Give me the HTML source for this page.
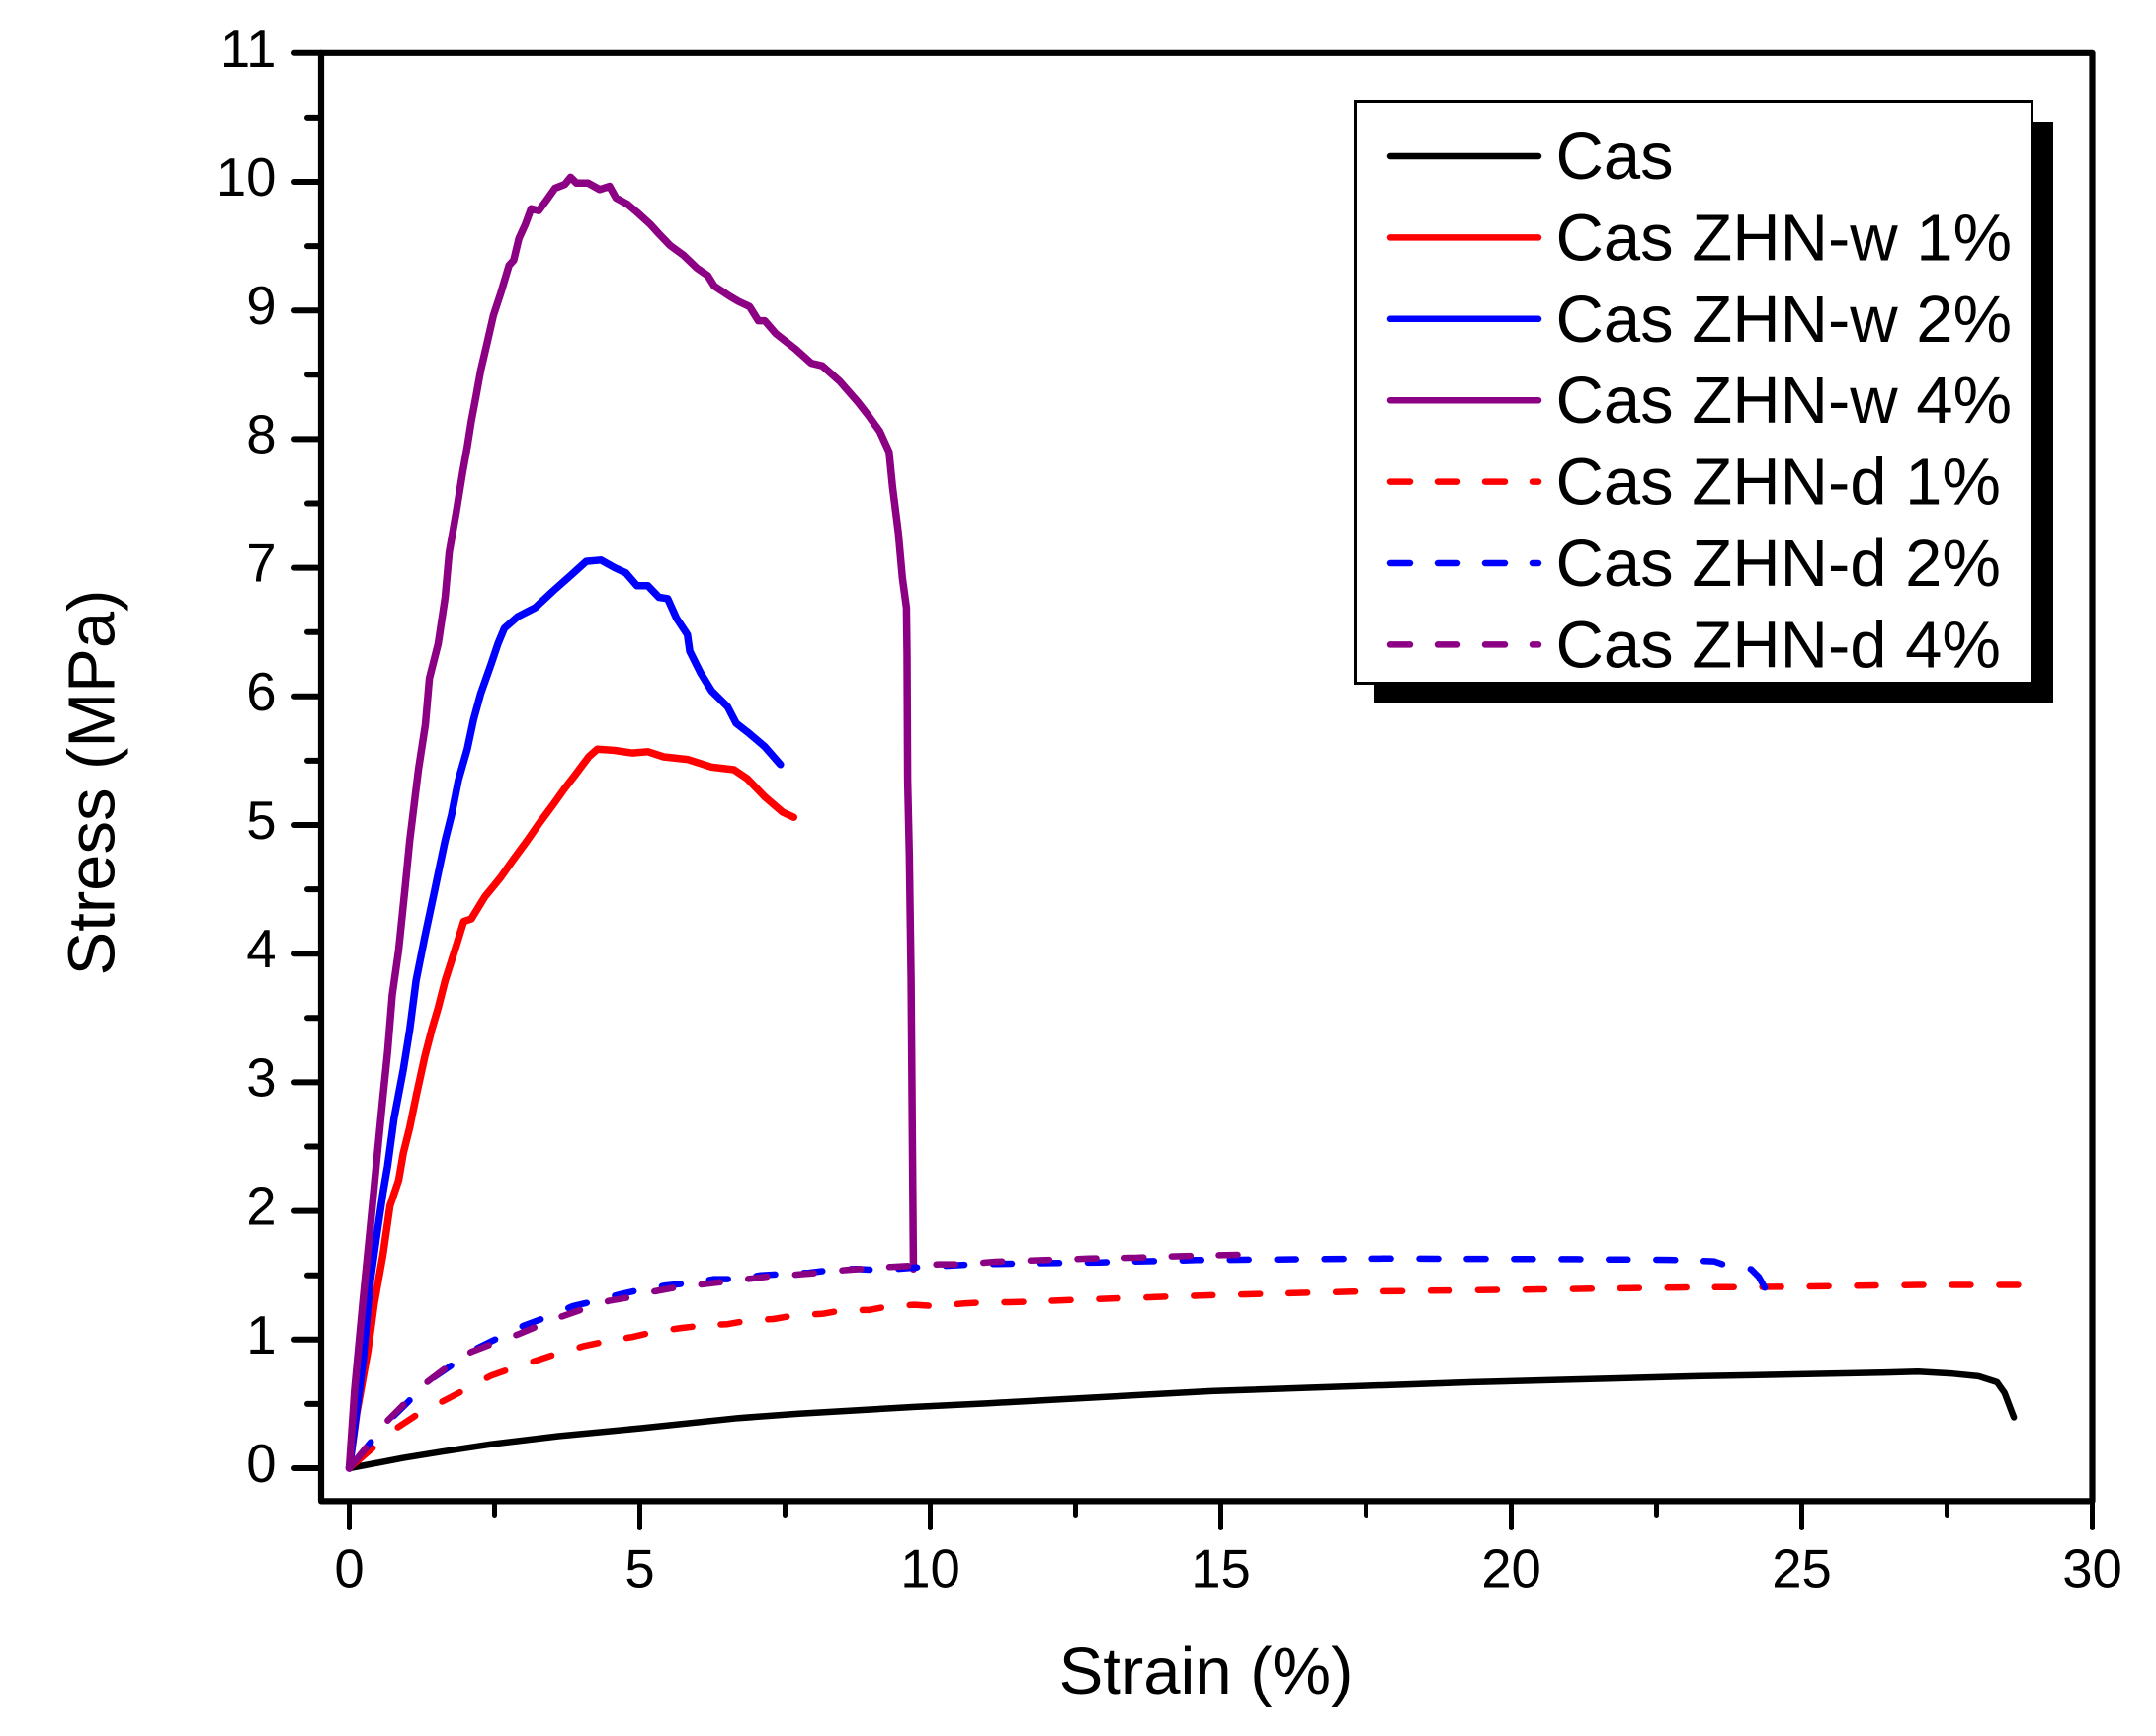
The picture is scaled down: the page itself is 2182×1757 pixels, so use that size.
<!DOCTYPE html>
<html lang="en">
<head>
<meta charset="utf-8">
<title>Stress vs Strain</title>
<style>
html,body{margin:0;padding:0;background:#fff;}
svg{display:block;font-family:"Liberation Sans",Arial,sans-serif;fill:#000;}
</style>
</head>
<body>
<svg id="chart" xmlns="http://www.w3.org/2000/svg" width="2182" height="1757" viewBox="0 0 2182 1757">
  <rect x="0" y="0" width="2182" height="1757" fill="#fff"/>
  <g id="curves"></g>
  <g id="axes"></g>
  <text x="1220.5" y="1714" font-size="67" text-anchor="middle">Strain (%)</text>
  <text transform="translate(115.5 792) rotate(-90)" font-size="67" text-anchor="middle">Stress (MPa)</text>
  <g id="legend">
    <rect x="1391" y="123" width="687" height="589" fill="#000"/>
    <rect x="1371.5" y="102.5" width="685" height="589" fill="#fff" stroke="#000" stroke-width="3"/>
  </g>
</svg>
<script>
var SVG_NS = 'http://www.w3.org/2000/svg';

var xTicksMajor = [0, 5, 10, 15, 20, 25, 30];
var xTicksMinor = [2.5, 7.5, 12.5, 17.5, 22.5, 27.5];
var yTicksMajor = [0, 1, 2, 3, 4, 5, 6, 7, 8, 9, 10, 11];
var yTicksMinor = [0.5, 1.5, 2.5, 3.5, 4.5, 5.5, 6.5, 7.5, 8.5, 9.5, 10.5];

var casStrain = [0,0.93,1.61,2.44,3.6,5,6.7,7.74,9.73,11,14.84,19.33,23.17,26.37,27,27.6,28.04,28.36,28.49,28.65];
var casStress = [0,0.08,0.13,0.187,0.25,0.31,0.39,0.425,0.477,0.505,0.6,0.669,0.715,0.743,0.75,0.735,0.715,0.669,0.587,0.396];

var w1Strain = [0,0.13,0.32,0.43,0.58,0.7,0.85,0.93,1.04,1.15,1.3,1.42,1.53,1.65,1.84,1.97,2.1,2.33,2.6,2.82,3.05,3.28,3.51,3.7,3.89,4.12,4.27,4.57,4.87,5.14,5.41,5.82,6.24,6.62,6.85,7.15,7.46,7.65];
var w1Stress = [0,0.43,0.91,1.28,1.66,2.04,2.24,2.45,2.65,2.89,3.2,3.41,3.58,3.79,4.06,4.25,4.27,4.44,4.59,4.73,4.87,5.02,5.16,5.28,5.39,5.53,5.59,5.58,5.56,5.57,5.53,5.51,5.45,5.43,5.36,5.22,5.1,5.06];

var w2Strain = [0,0.24,0.36,0.47,0.58,0.66,0.77,0.93,1.04,1.15,1.3,1.46,1.57,1.65,1.76,1.88,2.03,2.14,2.26,2.44,2.56,2.67,2.9,3.2,3.51,3.81,4.08,4.33,4.57,4.76,4.95,5.14,5.33,5.48,5.63,5.82,5.86,6.05,6.24,6.51,6.66,6.89,7.15,7.42];
var w2Stress = [0,0.84,1.45,1.8,2.14,2.35,2.72,3.1,3.41,3.79,4.13,4.47,4.71,4.88,5.08,5.35,5.59,5.82,6.02,6.25,6.41,6.53,6.62,6.69,6.82,6.94,7.05,7.06,7,6.96,6.86,6.86,6.77,6.76,6.61,6.48,6.35,6.18,6.04,5.92,5.79,5.71,5.61,5.47];

var w4Strain = [0,0.09,0.24,0.36,0.47,0.58,0.66,0.74,0.85,0.965,1.04,1.19,1.31,1.38,1.53,1.65,1.72,1.84,1.95,2.03,2.1,2.18,2.26,2.38,2.48,2.61,2.75,2.83,2.92,3.03,3.13,3.26,3.4,3.54,3.71,3.81,3.91,4.11,4.31,4.48,4.59,4.79,4.96,5.18,5.33,5.52,5.75,5.98,6.17,6.28,6.55,6.7,6.89,7.04,7.15,7.34,7.68,7.95,8.14,8.44,8.75,8.94,9.13,9.29,9.35,9.45,9.52,9.59,9.6,9.61,9.64,9.67,9.71,9.71];
var w4Stress = [0,0.6,1.32,1.87,2.38,2.89,3.24,3.68,4.03,4.53,4.88,5.43,5.78,6.14,6.41,6.77,7.12,7.43,7.74,7.94,8.14,8.33,8.53,8.76,8.96,9.14,9.35,9.39,9.56,9.67,9.79,9.775,9.86,9.95,9.98,10.035,9.99,9.99,9.94,9.965,9.875,9.825,9.76,9.67,9.595,9.505,9.43,9.33,9.27,9.19,9.11,9.07,9.03,8.92,8.92,8.82,8.7,8.59,8.57,8.45,8.29,8.18,8.06,7.9,7.63,7.27,6.92,6.69,6.33,5.35,4.77,3.79,1.59,1.55];

var d1Strain = [0,0.41,0.81,1.21,1.65,2.03,2.44,2.82,3.24,3.64,4.04,4.46,4.87,5.25,5.71,6.09,6.51,6.89,7.3,7.69,8.14,8.52,8.94,9.32,9.73,10.1,10.57,10.95,11.38,13.17,14.84,17.28,20.48,22.92,24.58,27,28.8];
var d1Stress = [0,0.16,0.31,0.43,0.53,0.62,0.72,0.78,0.84,0.9,0.95,0.99,1.02,1.06,1.09,1.11,1.12,1.15,1.16,1.19,1.2,1.23,1.23,1.26,1.27,1.26,1.28,1.29,1.29,1.32,1.345,1.373,1.39,1.405,1.41,1.425,1.425];

var d2Strain = [0,0.66,1,1.34,1.76,2.1,2.6,3.01,3.43,3.85,4.23,4.65,5.03,5.44,5.86,6.28,6.7,7.08,7.49,7.91,8.29,8.71,9.13,9.73,10.72,11.38,12.92,14.58,17.79,21.12,22.72,23.49,23.68,24.13,24.26,24.39];
var d2Stress = [0,0.36,0.51,0.67,0.8,0.91,1.02,1.11,1.18,1.26,1.3,1.35,1.39,1.42,1.44,1.47,1.47,1.5,1.51,1.52,1.54,1.55,1.54,1.56,1.585,1.59,1.6,1.618,1.63,1.625,1.62,1.608,1.58,1.547,1.487,1.383];

var d4Strain = [0,0.66,0.99,1.34,1.69,2.1,2.48,2.9,3.27,3.66,4.04,4.46,4.84,5.25,5.67,6.09,6.47,6.93,7.3,7.69,8.1,8.52,8.94,9.32,9.73,10.15,10.57,11.12,12.72,13.56,14.39,15.42];
var d4Stress = [0,0.37,0.52,0.67,0.79,0.905,0.97,1.04,1.11,1.18,1.24,1.3,1.33,1.375,1.41,1.43,1.45,1.475,1.495,1.505,1.52,1.54,1.555,1.565,1.575,1.585,1.585,1.605,1.63,1.637,1.65,1.66];

var seriesNames = ['Cas', 'Cas ZHN-w 1%', 'Cas ZHN-w 2%', 'Cas ZHN-w 4%', 'Cas ZHN-d 1%', 'Cas ZHN-d 2%', 'Cas ZHN-d 4%'];
var seriesSlugs = ['cas', 'cas-zhn-w-1', 'cas-zhn-w-2', 'cas-zhn-w-4', 'cas-zhn-d-1', 'cas-zhn-d-2', 'cas-zhn-d-4'];
var seriesStrain = [casStrain, w1Strain, w2Strain, w4Strain, d1Strain, d2Strain, d4Strain];
var seriesStress = [casStress, w1Stress, w2Stress, w4Stress, d1Stress, d2Stress, d4Stress];
var seriesColors = ['#000000', '#ff0000', '#0000ff', '#8c0084', '#ff0000', '#0000ff', '#8c0084'];
var seriesWidths = [6.5, 7.5, 7.5, 7.5, 6.5, 6.5, 6.5];
var seriesDashed = [false, false, false, false, true, true, true];
var seriesDashPhase = [0, 0, 0, 0, 8.15, 8.75, 2.3];
var seriesDashPeriod = [0, 0, 0, 0, 47.95, 47.95, 47.66];

function xScale(v) { return 353.5 + v * 58.8; }
function yScale(v) { return 1486 - v * 130.2; }

function make(tag, attrs, parent) {
  var el = document.createElementNS(SVG_NS, tag);
  for (var k in attrs) { el.setAttribute(k, attrs[k]); }
  parent.appendChild(el);
  return el;
}

/* Splits a pixel polyline into dash runs, measuring length with vertical distance compressed. */
function dashRuns(pts, phase, period, on) {
  var VERT = 0.65, runs = [], d = 0, current = [pts[0]];
  var k = 0, dashStart = 0, dashEnd = phase + on, inDash = true;
  for (var i = 1; i < pts.length; i++) {
    var a = pts[i - 1], b = pts[i];
    var dx = b[0] - a[0], dy = b[1] - a[1];
    var len = Math.sqrt(dx * dx + VERT * VERT * dy * dy);
    var walked = d;
    while (len > 0) {
      var target = inDash ? dashEnd : dashStart;
      if (target >= d + len) { break; }
      var f = (target - d) / len;
      var p = [a[0] + dx * f, a[1] + dy * f];
      if (inDash) {
        current.push(p);
        runs.push(current);
        current = null;
        inDash = false;
        k += 1;
        dashStart = phase + k * period;
        dashEnd = dashStart + on;
      } else {
        current = [p];
        inDash = true;
      }
    }
    d = walked + len;
    if (inDash) { current.push(b); }
  }
  if (inDash && current && current.length > 1) { runs.push(current); }
  return runs;
}

function toPoints(run) {
  return run.map(function (p) { return p[0].toFixed(1) + ',' + p[1].toFixed(1); }).join(' ');
}

var curves = document.getElementById('curves');
var axes = document.getElementById('axes');
var legend = document.getElementById('legend');

seriesNames.forEach(function (name, i) {
  var pts = seriesStrain[i].map(function (x, j) {
    return [xScale(x), yScale(seriesStress[i][j])];
  });
  var style = {
    fill: 'none', stroke: seriesColors[i], 'stroke-width': seriesWidths[i],
    'stroke-linejoin': 'round', 'stroke-linecap': 'round'
  };
  var group = make('g', style, curves);
  
  
  var runs = seriesDashed[i] ? dashRuns(pts, seriesDashPhase[i], seriesDashPeriod[i], 19) : [pts];
  runs.forEach(function (run) {
    var seg = make('polyline', { points: toPoints(run) }, group);
    
    
  });

  var ly = 158 + i * 82.4;
  var sample = make('line', {
    x1: 1407, x2: 1557, y1: ly, y2: ly, stroke: seriesColors[i], 'stroke-width': 6.5,
    'stroke-linecap': 'round'
  }, legend);
  if (seriesDashed[i]) { sample.setAttribute('stroke-dasharray', '20 28'); }
  
  

  var label = make('text', { x: 1574.5, y: ly + 23, 'font-size': 67 }, legend);
  label.textContent = name;
  
  
});

var frame = make('rect', {
  x: 325, y: yScale(11), width: xScale(30) - 325,
  height: 1519.4 - yScale(11), fill: 'none', stroke: '#000', 'stroke-width': 6.2
}, axes);


frame.style.strokeLinejoin = 'round';

xTicksMajor.forEach(function (v) {
  var t = make('line', { x1: xScale(v), x2: xScale(v), y1: 1520, y2: 1546.5, stroke: '#000', 'stroke-width': 5, 'stroke-linecap': 'round' }, axes);
  
  
  var l = make('text', { x: xScale(v), y: 1606.5, 'font-size': 54.5, 'text-anchor': 'middle' }, axes);
  l.textContent = String(v);
  
  
});
xTicksMinor.forEach(function (v) {
  var t = make('line', { x1: xScale(v), x2: xScale(v), y1: 1520, y2: 1533.5, stroke: '#000', 'stroke-width': 5, 'stroke-linecap': 'round' }, axes);
  
  
});
yTicksMajor.forEach(function (v) {
  var t = make('line', { x1: 298, x2: 325, y1: yScale(v), y2: yScale(v), stroke: '#000', 'stroke-width': 6, 'stroke-linecap': 'round' }, axes);
  
  
  var l = make('text', { x: 279.5, y: yScale(v) + 14, 'font-size': 54.5, 'text-anchor': 'end' }, axes);
  l.textContent = String(v);
  
  
});
yTicksMinor.forEach(function (v) {
  var t = make('line', { x1: 311, x2: 325, y1: yScale(v), y2: yScale(v), stroke: '#000', 'stroke-width': 6, 'stroke-linecap': 'round' }, axes);
  
  
});
</script>
</body>
</html>
